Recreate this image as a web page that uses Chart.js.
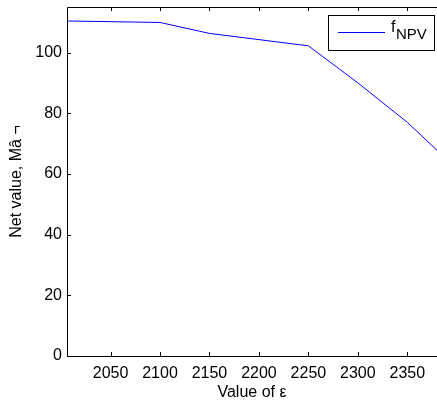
<!DOCTYPE html>
<html>
<head>
<meta charset="utf-8">
<script src="https://cdn.jsdelivr.net/npm/chart.js@4.4.0/dist/chart.umd.min.js"></script>
<style>
  html, body { margin: 0; padding: 0; background: #fff; }
  #wrap { width: 437px; height: 403px; }
</style>
</head>
<body>
<div id="wrap"><canvas id="npvChart" width="437" height="403"></canvas></div>
<script>
// data
const epsValues = [2006, 2100, 2150, 2250, 2300, 2350, 2380];
const npvValues = [110.4, 109.9, 106.3, 102.2, 90.0, 77.0, 67.8];
const xTicks = [2050, 2100, 2150, 2200, 2250, 2300, 2350];
const yTicks = [0, 20, 40, 60, 80, 100];
const xRange = [2006, 2380];
const yRange = [0, 115];

const FONT = 'Liberation Sans, Arial, Helvetica, sans-serif';

// MATLAB-style box with ticks pointing inward, plus the legend
const matlabAxes = {
  id: 'matlabAxes',
  afterDraw(chart) {
    const c = chart.ctx;
    const a = chart.chartArea;
    const xs = chart.scales.x, ys = chart.scales.y;
    c.save();
    c.strokeStyle = '#000';
    c.lineWidth = 1;
    c.beginPath();
    c.moveTo(a.left + 0.5, a.bottom + 0.5);
    c.lineTo(a.left + 0.5, a.top + 0.5);
    c.lineTo(a.right, a.top + 0.5);
    c.moveTo(a.left + 0.5, a.bottom + 0.5);
    c.lineTo(a.right, a.bottom + 0.5);
    xTicks.forEach(v => {
      const px = Math.round(xs.getPixelForValue(v)) + 0.5;
      c.moveTo(px, a.bottom); c.lineTo(px, a.bottom - 4);
      c.moveTo(px, a.top); c.lineTo(px, a.top + 4);
    });
    yTicks.forEach(v => {
      const py = Math.round(ys.getPixelForValue(v)) + 0.5;
      c.moveTo(a.left, py); c.lineTo(a.left + 4, py);
    });
    c.stroke();

    // legend
    const lx = 328, ly = 15, lw = 106, lh = 35;
    c.fillStyle = '#fff';
    c.fillRect(lx, ly, lw, lh);
    c.strokeRect(lx + 0.5, ly + 0.5, lw, lh);
    c.strokeStyle = '#0000ff';
    c.beginPath();
    c.moveTo(338, 32.5); c.lineTo(385, 32.5);
    c.stroke();
    c.fillStyle = '#000';
    c.textBaseline = 'alphabetic';
    c.font = '16px ' + FONT;
    c.fillText('f', 391, 32);
    c.font = '15px ' + FONT;
    c.fillText('NPV', 396, 39);
    c.restore();
  }
};

new Chart(document.getElementById('npvChart'), {
  type: 'line',
  data: {
    datasets: [{
      label: 'f_NPV',
      data: epsValues.map((x, i) => ({ x: x, y: npvValues[i] })),
      borderColor: '#0000ff',
      borderWidth: 1,
      pointRadius: 0,
      fill: false,
      tension: 0
    }]
  },
  options: {
    responsive: false,
    animation: false,
    layout: { padding: { top: 7, right: 0, left: 0, bottom: 0 } },
    plugins: { legend: { display: false }, tooltip: { enabled: false } },
    scales: {
      x: {
        type: 'linear',
        min: xRange[0],
        max: xRange[1],
        afterBuildTicks: s => { s.ticks = xTicks.map(v => ({ value: v })); },
        afterFit: s => { s.height = 47; s.paddingLeft = 0; s.paddingRight = 0; },
        grid: { display: false, drawTicks: false },
        border: { display: false },
        ticks: { color: '#000', font: { family: FONT, size: 16 }, padding: 8, maxRotation: 0, callback: v => String(v) },
        title: { display: true, text: 'Value of ε', color: '#000', font: { family: FONT, size: 16 }, padding: { top: 0, bottom: 1 } }
      },
      y: {
        min: yRange[0],
        max: yRange[1],
        afterBuildTicks: s => { s.ticks = yTicks.map(v => ({ value: v })); },
        afterFit: s => { s.width = 67; s.paddingTop = 0; s.paddingBottom = 0; },
        grid: { display: false, drawTicks: false },
        border: { display: false },
        ticks: { color: '#000', font: { family: FONT, size: 16 }, padding: 5 },
        title: { display: true, text: 'Net value, Mâ ¬', color: '#000', font: { family: FONT, size: 16 }, padding: { top: 7, bottom: 0 } }
      }
    }
  },
  plugins: [matlabAxes]
});
</script>
</body>
</html>
